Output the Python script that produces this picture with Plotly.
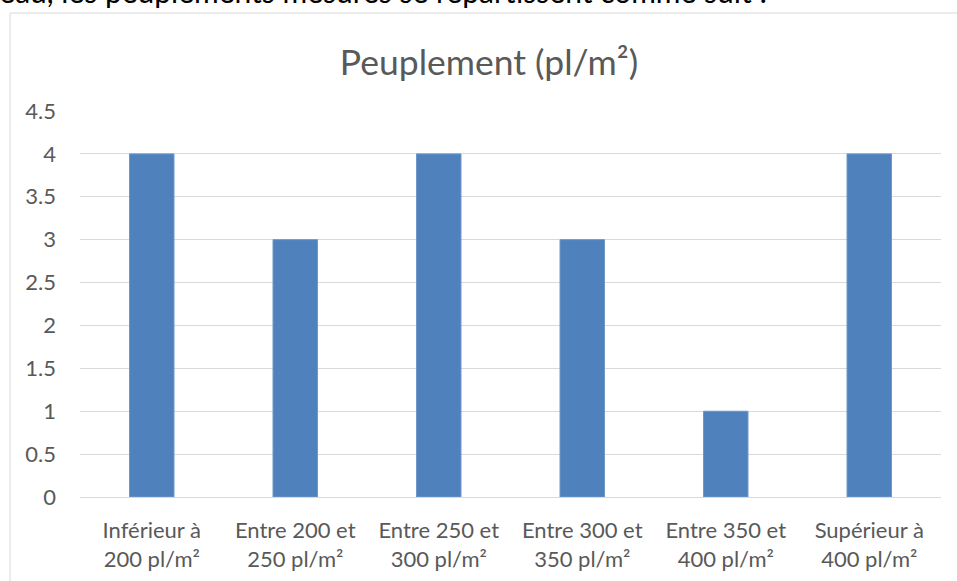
import plotly.graph_objects as go

categories = [
    "Inférieur à<br>200 pl/m²",
    "Entre 200 et<br>250 pl/m²",
    "Entre 250 et<br>300 pl/m²",
    "Entre 300 et<br>350 pl/m²",
    "Entre 350 et<br>400 pl/m²",
    "Supérieur à<br>400 pl/m²",
]
values = [4, 3, 4, 3, 1, 4]
title_text = "Peuplement (pl/m²)"
intro_text = "Au niveau, les peuplements mesurés se répartissent comme suit :"

W, H = 957, 581
L, R, T, B = 80, 16, 111, 84
PW, PH = W - L - R, H - T - B

def px_x(px):
    return (px - L) / PW

def px_y(py):
    return (H - B - py) / PH

FONT = "Lato"
GREY = "#595959"

fig = go.Figure(go.Bar(
    x=categories, y=values,
    marker=dict(color="#4F81BD", line=dict(color="#6F97C8", width=1)),
    width=0.31,
))

fig.update_layout(
    width=W, height=H,
    margin=dict(l=L, r=R, t=T, b=B, autoexpand=False),
    paper_bgcolor="white", plot_bgcolor="white",
    showlegend=False,
    font=dict(family=FONT, color=GREY, size=22),
    title=dict(text=title_text, x=px_x(489), xref="paper", xanchor="center",
               y=1 - 63 / H, yref="container", yanchor="middle",
               font=dict(family=FONT, size=35.5, color=GREY)),
    xaxis=dict(showgrid=False, showline=False, ticks="", automargin=False,
               tickfont=dict(size=22, color=GREY), ticklabelstandoff=18),
    yaxis=dict(range=[0, 4.5], dtick=0.5, showgrid=True, gridcolor="#D9D9D9", gridwidth=1,
               zeroline=True, zerolinecolor="#D9D9D9", zerolinewidth=1, automargin=False,
               showline=False, ticks="", tickfont=dict(size=22, color=GREY),
               ticklabelstandoff=23),
    shapes=[dict(type="rect", xref="paper", yref="paper",
                 x0=px_x(10), x1=px_x(980), y0=px_y(600), y1=px_y(13),
                 line=dict(color="#D9D9D9", width=1), fillcolor="rgba(0,0,0,0)", layer="below")],
    annotations=[dict(text=intro_text, xref="paper", yref="paper",
                      x=px_x(769), y=px_y(11), xanchor="right", yanchor="bottom",
                      showarrow=False, font=dict(family=FONT, size=30, color="black"))],
)

fig.write_html("out.html", config={"displayModeBar": False},
               post_script="document.body.style.margin='0';")
